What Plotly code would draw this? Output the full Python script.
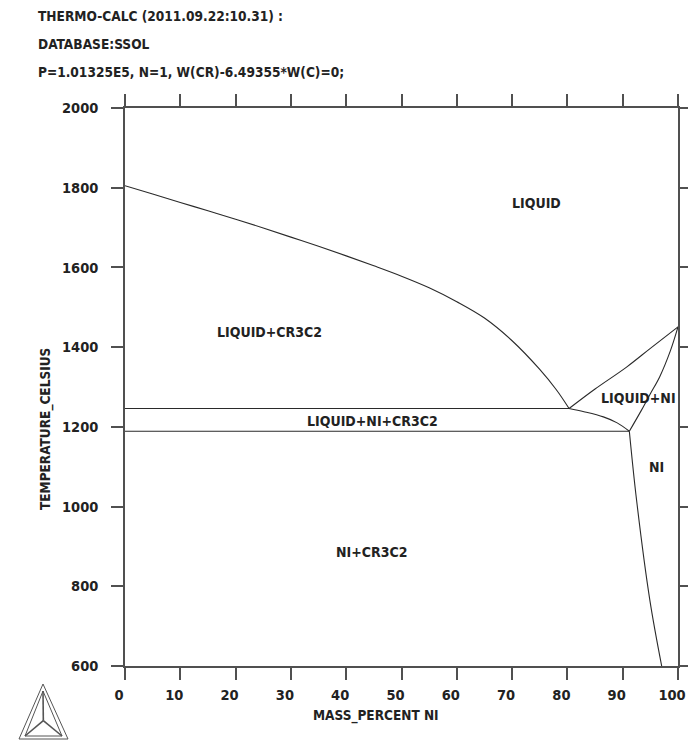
import plotly.graph_objects as go

# ---------------- data ----------------
liq_cr3c2_x = [0, 5, 10, 15, 20, 25, 30, 35, 40, 45, 50, 55, 60, 65, 70, 75, 78, 80.3]
liq_cr3c2_t = [1805, 1784, 1763, 1742, 1721, 1699, 1676, 1653, 1629, 1604, 1578, 1549, 1514, 1473, 1416, 1344, 1293, 1246]

liq_ni_x = [80.3, 85, 90.7, 95, 100]
liq_ni_t = [1246, 1295, 1350, 1397, 1451]

sol_ni_x = [91.2, 93.4, 95, 96.7, 98.6, 100]
sol_ni_t = [1189, 1242, 1283, 1326, 1390, 1451]

tri_x = [80.3, 83, 86.5, 89, 91.2]
tri_t = [1246, 1238, 1225, 1210, 1189]

solvus_x = [91.2, 92.5, 94.9, 97.05]
solvus_t = [1189, 1017, 766, 600]

eut_upper_x = [0, 80.3]
eut_upper_t = [1246, 1246]
eut_lower_x = [0, 91.2]
eut_lower_t = [1189, 1189]

x_ticks = [0, 10, 20, 30, 40, 50, 60, 70, 80, 90, 100]
y_ticks = [600, 800, 1000, 1200, 1400, 1600, 1800, 2000]

region_labels = ["LIQUID", "LIQUID+CR3C2", "LIQUID+NI", "LIQUID+NI+CR3C2", "NI", "NI+CR3C2"]
region_x = [74.5, 26.2, 92.8, 44.7, 96.2, 44.7]
region_t = [1762, 1438, 1272, 1215, 1099, 886]

header_lines = ["THERMO-CALC (2011.09.22:10.31) :",
                "DATABASE:SSOL",
                "P=1.01325E5, N=1, W(CR)-6.49355*W(C)=0;"]

# ---------------- figure ----------------
FONT = "DejaVu Sans Condensed, Liberation Sans Narrow, sans-serif"
LINE = "#2a2a2a"
FRAME = "#505050"
TXT = "#222222"

fig = go.Figure()
for xs, ts in [(liq_cr3c2_x, liq_cr3c2_t), (liq_ni_x, liq_ni_t), (sol_ni_x, sol_ni_t),
               (tri_x, tri_t), (solvus_x, solvus_t), (eut_upper_x, eut_upper_t),
               (eut_lower_x, eut_lower_t)]:
    fig.add_trace(go.Scatter(x=xs, y=ts, mode="lines", line=dict(color=LINE, width=1.1),
                             line_shape="spline", hoverinfo="skip", showlegend=False))

for lab, xv, tv in zip(region_labels, region_x, region_t):
    fig.add_annotation(x=xv, y=tv, text=lab, showarrow=False,
                       font=dict(family=FONT, size=14, color=TXT, weight="bold"))

# page geometry (pixels)
W, H = 688, 751
L, R, T, B = 125, 10, 108, 85
PW, PH = W - L - R, H - T - B


def px(xp):
    return (xp - L) / PW


def py(yp):
    return (H - B - yp) / PH


for i, line in enumerate(header_lines):
    fig.add_annotation(xref="paper", yref="paper", x=px(36), y=py(16 + 28 * i), text=line,
                       showarrow=False, xanchor="left", yanchor="middle",
                       font=dict(family=FONT, size=13.6, color=TXT, weight="bold"))

fig.add_annotation(xref="paper", yref="paper", x=px(46), y=py(429), text="TEMPERATURE_CELSIUS",
                   textangle=-90, showarrow=False, xanchor="center", yanchor="middle",
                   font=dict(family=FONT, size=13.5, color=TXT, weight="bold"))
fig.add_annotation(xref="paper", yref="paper", x=px(376), y=py(715), text="MASS_PERCENT NI",
                   showarrow=False, xanchor="center", yanchor="middle",
                   font=dict(family=FONT, size=13.5, color=TXT, weight="bold"))

# Thermo-Calc logo (decoration)
ax_, ay_ = 43, 684
blx, bly = 19, 739
brx, bry = 68, 739
cx, cy = (ax_ + blx + brx) / 3, (ay_ + bly + bry) / 3


def tri_path(a, bl, br):
    return (f"M {px(a[0])},{py(a[1])} L {px(bl[0])},{py(bl[1])} "
            f"L {px(br[0])},{py(br[1])} Z")


logo_col = "#555555"
fig.add_shape(type="path", xref="paper", yref="paper",
              path=tri_path((ax_, ay_), (blx, bly), (brx, bry)),
              line=dict(color=logo_col, width=1))
fig.add_shape(type="path", xref="paper", yref="paper",
              path=tri_path((ax_, ay_ + 7), (blx + 6, bly - 3), (brx - 6, bry - 3)),
              line=dict(color=logo_col, width=1))
for vx, vy in [(ax_, ay_ + 7), (blx + 6, bly - 3), (brx - 6, bry - 3)]:
    fig.add_shape(type="line", xref="paper", yref="paper",
                  x0=px(cx), y0=py(cy), x1=px(vx), y1=py(vy),
                  line=dict(color=logo_col, width=1.6))

axis_common = dict(showline=True, linecolor=FRAME, linewidth=1.5, mirror="ticks",
                   ticks="outside", ticklen=12, tickwidth=1.5, tickcolor=FRAME,
                   showgrid=False, zeroline=False, automargin=False,
                   ticklabeloverflow="allow",
                   tickfont=dict(family=FONT, size=14.5, color=TXT, weight="bold"))

fig.update_xaxes(range=[0, 100], tickvals=x_ticks, ticklabelstandoff=3,
                 ticklabelshift=-6, **axis_common)
fig.update_yaxes(range=[600, 2000], tickvals=y_ticks, ticklabelstandoff=10, **axis_common)

fig.update_layout(width=W, height=H, margin=dict(l=L, r=R, t=T, b=B, autoexpand=False),
                  paper_bgcolor="white", plot_bgcolor="white", showlegend=False)

fig.write_html("out.html", config={"displayModeBar": False},
               post_script="document.body.style.margin='0px';document.body.style.overflow='hidden';")
